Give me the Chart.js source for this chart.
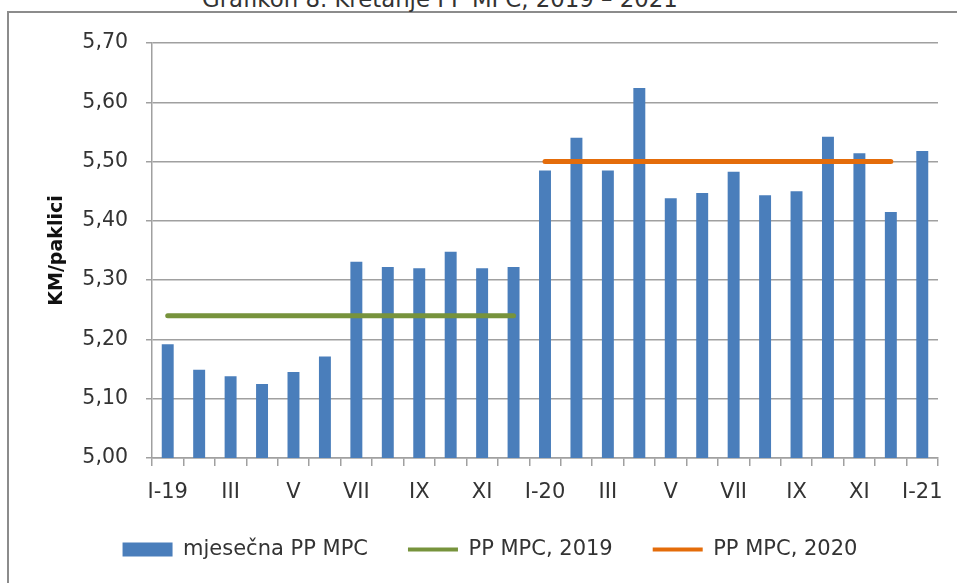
<!DOCTYPE html>
<html>
<head>
<meta charset="utf-8">
<title>Kretanje PP MPC, 2019 – 2021</title>
<script src="https://cdn.jsdelivr.net/npm/chart.js@4.4.0/dist/chart.umd.min.js"></script>
<style>
  html, body { margin: 0; padding: 0; background: #fff; overflow: hidden; }
  #wrap { position: relative; width: 957px; height: 583px; overflow: hidden; }
  #frame { position: absolute; left: 7px; top: 11px; right: -10px; bottom: -10px;
           border-top: 2px solid #8c8c8c; border-left: 2px solid #8c8c8c; }
  #title { position: absolute; left: 202px; top: -14px; white-space: nowrap;
           font: 22.8px/26px "DejaVu Sans", sans-serif; color: #333; }
  #box { position: absolute; left: 0; top: 0; width: 957px; height: 583px; }
</style>
</head>
<body>
<div id="wrap">
  <div id="frame"></div>
  <div id="title">Grafikon 8. Kretanje PP MPC, 2019 – 2021</div>
  <div id="box"><canvas id="chart"></canvas></div>
</div>
<script>
// months, I-2019 .. I-2021
const months = ['I-19', 'II', 'III', 'IV', 'V', 'VI', 'VII', 'VIII', 'IX', 'X', 'XI', 'XII',
                'I-20', 'II', 'III', 'IV', 'V', 'VI', 'VII', 'VIII', 'IX', 'X', 'XI', 'XII',
                'I-21'];

// monthly retail price (KM per pack)
const monthlyPrice = [5.192, 5.149, 5.138, 5.125, 5.145, 5.171, 5.331, 5.322, 5.320, 5.348, 5.320, 5.322,
                      5.485, 5.540, 5.485, 5.624, 5.438, 5.447, 5.483, 5.443, 5.450, 5.542, 5.514, 5.415,
                      5.518];

// yearly averages, drawn only over their own year
const avg2019 = [5.24, 5.24, 5.24, 5.24, 5.24, 5.24, 5.24, 5.24, 5.24, 5.24, 5.24, 5.24,
                 null, null, null, null, null, null, null, null, null, null, null, null, null];
const avg2020 = [null, null, null, null, null, null, null, null, null, null, null, null,
                 5.50, 5.50, 5.50, 5.50, 5.50, 5.50, 5.50, 5.50, 5.50, 5.50, 5.50, 5.50, null];

const yTicks = { min: 5.0, max: 5.7, step: 0.1 };

const BLUE = '#4a7ebb';
const GREEN = '#77933c';
const ORANGE = '#e46c0a';
const GRID = '#a0a0a0';

Chart.defaults.font.family = '"DejaVu Sans", sans-serif';
Chart.defaults.color = '#333';

new Chart(document.getElementById('chart'), {
  type: 'bar',
  data: {
    labels: months,
    datasets: [
      {
        label: 'mjesečna PP MPC',
        data: monthlyPrice,
        backgroundColor: BLUE,
        borderWidth: 0,
        categoryPercentage: 1,
        barPercentage: 0.38,
        order: 1,
      },
      {
        type: 'line',
        label: 'PP MPC, 2019',
        data: avg2019,
        borderColor: GREEN,
        backgroundColor: GREEN,
        borderWidth: 5,
        borderCapStyle: 'round',
        pointRadius: 0,
        spanGaps: false,
        order: 0,
      },
      {
        type: 'line',
        label: 'PP MPC, 2020',
        data: avg2020,
        borderColor: ORANGE,
        backgroundColor: ORANGE,
        borderWidth: 5,
        borderCapStyle: 'round',
        pointRadius: 0,
        spanGaps: false,
        order: 0,
      },
    ],
  },
  options: {
    responsive: true,
    maintainAspectRatio: false,
    animation: false,
    layout: { padding: { left: 42, right: 19, top: 43, bottom: 13 } },
    plugins: {
      tooltip: { enabled: false },
      legend: {
        position: 'bottom',
        labels: {
          usePointStyle: true,
          pointStyleWidth: 50,
          boxHeight: 14,
          padding: 40,
          color: '#333',
          font: { size: 21 },
          sort: (a, b) => a.datasetIndex - b.datasetIndex,
          generateLabels(chart) {
            const items = Chart.defaults.plugins.legend.labels.generateLabels(chart);
            items.forEach(it => {
              it.pointStyle = it.datasetIndex === 0 ? 'rect' : 'line';
              if (it.datasetIndex > 0) it.lineWidth = 4;
            });
            return items;
          },
        },
      },
    },
    scales: {
      x: {
        offset: true,
        grid: { display: true, drawOnChartArea: false, drawTicks: true, tickLength: 8, color: GRID, lineWidth: 1.5, offset: true },
        border: { display: true, color: GRID, width: 1.5 },
        ticks: {
          autoSkip: false,
          maxRotation: 0,
          padding: 14,
          color: '#333',
          font: { size: 21 },
          callback: (v, i) => (i % 2 === 0 ? months[i] : ''),
        },
        afterFit: s => { s.height = 41; },
      },
      y: {
        min: yTicks.min,
        max: yTicks.max,
        grid: { color: GRID, lineWidth: 1.5, tickLength: 6 },
        border: { display: true, color: GRID, width: 1.5 },
        ticks: {
          stepSize: yTicks.step,
          padding: 18,
          color: '#333',
          font: { size: 20.5 },
          callback: v => v.toFixed(2).replace('.', ','),
        },
        title: {
          display: true,
          text: 'KM/paklici',
          color: '#111',
          font: { size: 19, weight: 'bold' },
          padding: { top: 4, bottom: 0 },
        },
        afterFit: s => { s.width = 110; },
      },
    },
  },
});
</script>
</body>
</html>
